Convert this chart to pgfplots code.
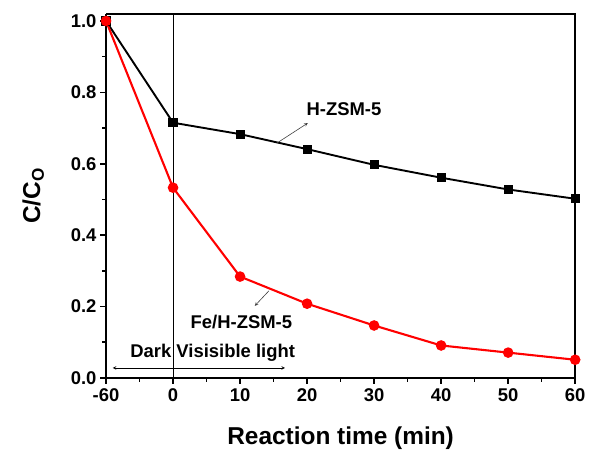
\documentclass[border=0pt]{standalone}
\usepackage{fontspec}
\setmainfont{Liberation Sans}
\usepackage{pgfplots}
\pgfplotsset{compat=1.18}
\begin{document}
\begin{tikzpicture}[x=1bp,y=1bp]
\begin{axis}[
  scale only axis,
  width=469bp, height=364bp,
  xmin=0, xmax=7, ymin=0, ymax=1.02,
  xtick={0,1,2,3,4,5,6,7},
  xticklabels={-60,0,10,20,30,40,50,60},
  minor xtick={0.5,1.5,2.5,3.5,4.5,5.5,6.5},
  ytick={0,0.2,0.4,0.6,0.8,1.0},
  minor ytick={0.1,0.3,0.5,0.7,0.9},
  yticklabel style={/pgf/number format/.cd,fixed,fixed zerofill,precision=1},
  /pgf/number format/assume math mode=true,
  tick label style={font=\fontsize{18.5}{22}\selectfont\bfseries},
  xticklabel style={yshift=-1bp},
  axis x line*=bottom, axis y line*=left,
  axis line style={line width=2pt, -},
  tick align=outside,
  major tick length=6bp, minor tick length=4bp,
  every tick/.style={line width=1.6pt, black},
  xlabel={\fontsize{24.5}{28}\selectfont\bfseries Reaction time (min)},
  ylabel={\fontsize{24.5}{28}\selectfont\bfseries C/C$_{\mathbf{O}}$},
  xlabel style={yshift=-18bp},
  ylabel style={yshift=20bp},
  clip=false,
]
% top and right frame lines
\draw[line width=2pt] (axis description cs:0,1) -- (axis description cs:1,1) -- (axis description cs:1,0);
% bounding box helper
\path (axis description cs:-0.226,-0.195) rectangle (axis description cs:1.038,1.038);
% vertical divider at t=0
\draw[line width=0.7pt] (axis cs:1,0) -- (axis cs:1,1.02);
\addplot[black, line width=1.9pt, mark=square*, mark size=3.6bp] coordinates {
(0,1.0) (1,0.715) (2,0.683) (3,0.641) (4,0.597) (5,0.561) (6,0.528) (7,0.502)};
\addplot[red, line width=2.1pt, mark=*, mark size=4.2bp] coordinates {
(0,1.0) (1,0.533) (2,0.284) (3,0.208) (4,0.147) (5,0.091) (6,0.071) (7,0.051)};
% annotations
\draw[-stealth, line width=0.6pt, black!75] (axis cs:2.55,0.658) -- (axis cs:3.01,0.714);
\node[font=\fontsize{18.5}{22}\selectfont\bfseries] at (axis cs:3.55,0.752) {H-ZSM-5};
\draw[-stealth, line width=0.6pt, black!75] (axis cs:2.43,0.244) -- (axis cs:2.22,0.202);
\node[font=\fontsize{18.5}{22}\selectfont\bfseries] at (axis cs:2.02,0.157) {Fe/H-ZSM-5};
\draw[stealth-stealth, line width=0.6pt] (axis cs:0.10,0.028) -- (axis cs:2.67,0.028);
\node[font=\fontsize{18.5}{22}\selectfont\bfseries, anchor=west] at (axis cs:0.31,0.071) {Dark Visisible light};
\end{axis}
\end{tikzpicture}
\end{document}
